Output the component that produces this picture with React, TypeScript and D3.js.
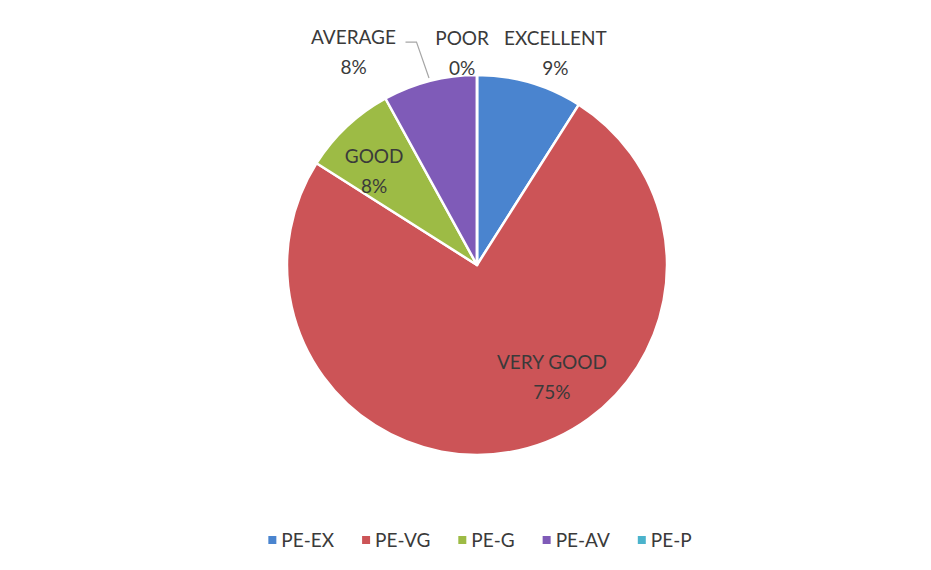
import { useEffect, useRef } from "react";
import * as d3 from "d3";

const categories = ["PE-EX", "PE-VG", "PE-G", "PE-AV", "PE-P"];
const labelNames = ["EXCELLENT", "VERY GOOD", "GOOD", "AVERAGE", "POOR"];
const values = [9, 75, 8, 8, 0];
const colors = ["#4a84cf", "#cc5457", "#9dbb45", "#7f5bb8", "#4bb3cc"];

export default function App() {
  const svgRef = useRef<SVGSVGElement | null>(null);

  useEffect(() => {
    if (!svgRef.current) return;
    const width = 931;
    const height = 570;
    const cx = 477;
    const cy = 265;
    const radius = 190;
    const font = "Lato, 'Open Sans', sans-serif";
    const textColor = "#3a3a3a";

    const svg = d3.select(svgRef.current);
    svg.selectAll("*").remove();

    svg.append("rect").attr("width", width).attr("height", height).attr("fill", "#fff");

    const pie = d3
      .pie<number>()
      .sort(null)
      .value((d) => d);
    const arcs = pie(values);
    const total = d3.sum(values);

    const arc = d3.arc<d3.PieArcDatum<number>>().innerRadius(0).outerRadius(radius);

    const g = svg.append("g").attr("transform", `translate(${cx},${cy})`);

    g.selectAll("path")
      .data(arcs)
      .join("path")
      .attr("d", arc)
      .attr("fill", (_, i) => colors[i])
      .attr("stroke", "#fff")
      .attr("stroke-width", 2.5)
      .attr("stroke-linejoin", "round");

    // label placement (polar: degrees clockwise from top, distance from centre)
    const labelPolar: [number, number][] = [
      [20.2, 227],
      [146, 134],
      [312.7, 140],
      [330, 247],
      [356, 214],
    ];

    const polar = (deg: number, r: number) => {
      const a = (deg * Math.PI) / 180;
      return [r * Math.sin(a), -r * Math.cos(a)];
    };

    arcs.forEach((a, i) => {
      const [lx, ly] = polar(labelPolar[i][0], labelPolar[i][1]);
      const pct = Math.round((a.data / total) * 100);
      const t = g
        .append("text")
        .attr("text-anchor", "middle")
        .attr("font-family", font)
        .attr("font-size", 19)
        .attr("fill", textColor);
      t.append("tspan").attr("x", lx).attr("y", ly - 7).text(labelNames[i]);
      t.append("tspan").attr("x", lx).attr("y", ly + 23).text(`${pct}%`);
    });

    // leader line for AVERAGE
    const avg = arcs[3];
    const mid = (((avg.startAngle + avg.endAngle) / 2) * 180) / Math.PI;
    const [ex, ey] = polar(mid, radius + 3);
    const [lx, ly] = polar(labelPolar[3][0], labelPolar[3][1]);
    g.append("polyline")
      .attr("points", `${lx + 52},${ly - 9} ${lx + 63},${ly - 9} ${ex},${ey}`)
      .attr("fill", "none")
      .attr("stroke", "#a6a6a6")
      .attr("stroke-width", 1.2);

    // legend, laid out in sequence and centred
    const legend = svg.append("g").attr("transform", "translate(0,540)");
    const items = categories.map((c, i) => {
      const item = legend.append("g");
      item
        .append("rect")
        .attr("x", 0)
        .attr("y", -4)
        .attr("width", 8)
        .attr("height", 8)
        .attr("fill", colors[i]);
      const txt = item
        .append("text")
        .attr("x", 13)
        .attr("y", 7)
        .attr("font-family", font)
        .attr("font-size", 19)
        .attr("fill", textColor)
        .text(c);
      const w = 13 + (txt.node() as SVGTextElement).getComputedTextLength();
      return { item, w };
    });
    const gap = 28;
    const totalW = d3.sum(items, (d) => d.w) + gap * (items.length - 1);
    let x = 480 - totalW / 2;
    items.forEach(({ item, w }) => {
      item.attr("transform", `translate(${x},0)`);
      x += w + gap;
    });
  }, []);

  return (
    <svg
      ref={svgRef}
      width={931}
      height={570}
      style={{ position: "absolute", left: 0, top: 0, display: "block" }}
    ></svg>
  );
}
